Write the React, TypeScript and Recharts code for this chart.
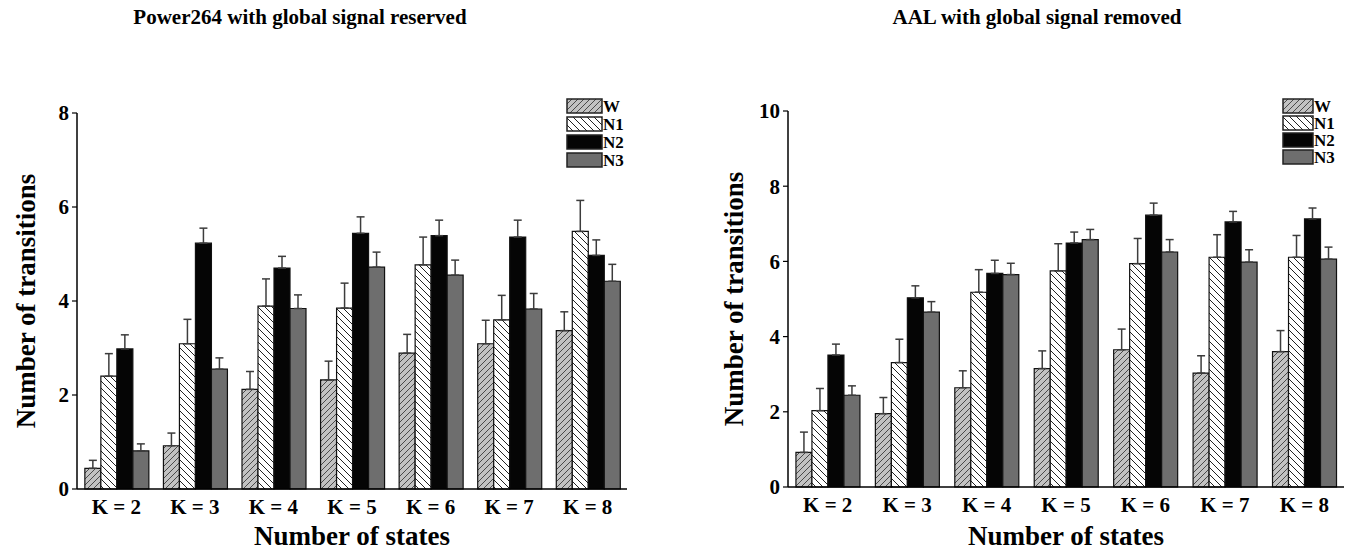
import { Bar, BarChart, ErrorBar, XAxis, YAxis } from "recharts";

const FONT = "Liberation Serif, Times New Roman, serif";

const categories = ["K = 2", "K = 3", "K = 4", "K = 5", "K = 6", "K = 7", "K = 8"];
const groups = ["W", "N1", "N2", "N3"];

// Power264, global signal reserved
const powerW = [0.44, 0.92, 2.12, 2.32, 2.89, 3.09, 3.37];
const powerWErr = [0.17, 0.27, 0.38, 0.4, 0.4, 0.5, 0.4];
const powerN1 = [2.4, 3.09, 3.89, 3.85, 4.77, 3.6, 5.48];
const powerN1Err = [0.48, 0.52, 0.58, 0.53, 0.59, 0.52, 0.66];
const powerN2 = [2.98, 5.23, 4.7, 5.44, 5.39, 5.36, 4.97];
const powerN2Err = [0.3, 0.32, 0.25, 0.35, 0.33, 0.36, 0.33];
const powerN3 = [0.81, 2.55, 3.84, 4.72, 4.55, 3.83, 4.42];
const powerN3Err = [0.15, 0.24, 0.29, 0.32, 0.32, 0.33, 0.36];

// AAL, global signal removed
const aalW = [0.92, 1.95, 2.64, 3.15, 3.65, 3.03, 3.6];
const aalWErr = [0.54, 0.43, 0.45, 0.47, 0.55, 0.46, 0.56];
const aalN1 = [2.03, 3.31, 5.18, 5.75, 5.94, 6.11, 6.11];
const aalN1Err = [0.59, 0.62, 0.6, 0.72, 0.67, 0.6, 0.58];
const aalN2 = [3.51, 5.03, 5.68, 6.49, 7.23, 7.05, 7.13];
const aalN2Err = [0.29, 0.32, 0.35, 0.29, 0.32, 0.28, 0.29];
const aalN3 = [2.44, 4.65, 5.65, 6.58, 6.25, 5.98, 6.06];
const aalN3Err = [0.25, 0.28, 0.3, 0.27, 0.33, 0.33, 0.32];

const powerTicks = [0, 2, 4, 6, 8];
const aalTicks = [0, 2, 4, 6, 8, 10];

const buildRows = (vals: number[][], errs: number[][]) =>
  categories.map((k, i) => {
    const row: Record<string, any> = { k };
    groups.forEach((g, j) => {
      row[g] = vals[j][i];
      row[g + "Err"] = [0, errs[j][i]];
    });
    return row;
  });

const powerRows = buildRows(
  [powerW, powerN1, powerN2, powerN3],
  [powerWErr, powerN1Err, powerN2Err, powerN3Err]
);
const aalRows = buildRows([aalW, aalN1, aalN2, aalN3], [aalWErr, aalN1Err, aalN2Err, aalN3Err]);

const fills: Record<string, string> = {
  W: "url(#hatch-w)",
  N1: "url(#hatch-n1)",
  N2: "#050505",
  N3: "#6e6e6e",
};

function Patterns() {
  return (
    <svg width={0} height={0} style={{ position: "absolute" }}>
      <defs>
        <pattern id="hatch-w" patternUnits="userSpaceOnUse" width={6} height={6}>
          <rect width={6} height={6} fill="#c2c2c2" />
          <path d="M0,6 L6,0 M-1,1 L1,-1 M5,7 L7,5" stroke="#4a4a4a" strokeWidth={1} />
        </pattern>
        <pattern id="hatch-n1" patternUnits="userSpaceOnUse" width={7} height={7}>
          <rect width={7} height={7} fill="#ffffff" />
          <path d="M0,0 L7,7 M-1,6 L1,8 M6,-1 L8,1" stroke="#222" strokeWidth={1} />
        </pattern>
      </defs>
    </svg>
  );
}

const tickStyle = { fill: "#000", fontSize: 21, fontWeight: 700, fontFamily: FONT };
const axisTitle = { fill: "#000", fontSize: 27, fontWeight: 700, fontFamily: FONT };

function Panel({
  rows,
  ticks,
  left,
  width,
  top,
  bottom,
  right,
  yWidth,
  yLabelDx,
}: {
  rows: Record<string, any>[];
  ticks: number[];
  left: number;
  width: number;
  top: number;
  bottom: number;
  right: number;
  yWidth: number;
  yLabelDx: number;
}) {
  return (
    <div style={{ position: "absolute", left, top: 0 }}>
      <BarChart
        width={width}
        height={551}
        data={rows}
        margin={{ top, right, left: 0, bottom: 0 }}
        barCategoryGap="10%"
        barGap={0}
      >
        <XAxis
          dataKey="k"
          height={551 - bottom}
          axisLine={{ stroke: "#000", strokeWidth: 1.5 }}
          tickLine={false}
          tickSize={0}
          tickMargin={10}
          tick={tickStyle}
          interval={0}
          label={{ value: "Number of states", position: "insideBottom", offset: 6, style: axisTitle }}
        />
        <YAxis
          width={yWidth}
          domain={[0, ticks[ticks.length - 1]]}
          ticks={ticks}
          axisLine={{ stroke: "#000", strokeWidth: 1.5 }}
          tickLine={{ stroke: "#000", strokeWidth: 1.2 }}
          tickSize={5}
          tickMargin={3}
          tick={tickStyle}
          label={{
            value: "Number of transitions",
            angle: -90,
            position: "center",
            dx: yLabelDx,
            style: axisTitle,
          }}
        />
        {groups.map((g) => (
          <Bar
            key={g}
            dataKey={g}
            fill={fills[g]}
            stroke="#111"
            strokeWidth={1.2}
            isAnimationActive={false}
          >
            <ErrorBar dataKey={g + "Err"} width={4} stroke="#3c3c3c" strokeWidth={1.5} direction="y" />
          </Bar>
        ))}
      </BarChart>
    </div>
  );
}

function LegendBox({ x, y, w, h, pitch }: { x: number; y: number; w: number; h: number; pitch: number }) {
  return (
    <svg
      width={w + 40}
      height={pitch * 4 + 4}
      style={{ position: "absolute", left: x, top: y, overflow: "visible" }}
    >
      {groups.map((g, i) => (
        <g key={g} transform={`translate(0, ${i * pitch + 1})`}>
          <rect x={1} y={0} width={w} height={h} fill={fills[g]} stroke="#222" strokeWidth={1.5} />
          <text
            x={w + 2}
            y={h / 2 + 6}
            fontFamily={FONT}
            fontWeight={700}
            fontSize={17}
            fill="#000"
          >
            {g}
          </text>
        </g>
      ))}
    </svg>
  );
}

const titleStyle = {
  position: "absolute" as const,
  top: 5,
  fontFamily: FONT,
  fontWeight: 700,
  fontSize: 21,
  color: "#000",
  textAlign: "center" as const,
  width: 500,
  whiteSpace: "nowrap" as const,
};

export default function App() {
  return (
    <div
      style={{
        position: "absolute",
        left: 0,
        top: 0,
        width: 1346,
        height: 551,
        background: "#fff",
        overflow: "hidden",
      }}
    >
      <Patterns />
      <div style={{ ...titleStyle, left: 300 - 250 }}>Power264 with global signal reserved</div>
      <div style={{ ...titleStyle, left: 1037 - 250 }}>AAL with global signal removed</div>
      <Panel
        rows={powerRows}
        ticks={powerTicks}
        left={0}
        width={640}
        top={113}
        bottom={489}
        right={13}
        yWidth={77}
        yLabelDx={-13}
      />
      <Panel
        rows={aalRows}
        ticks={aalTicks}
        left={700}
        width={646}
        top={111}
        bottom={487}
        right={2}
        yWidth={88}
        yLabelDx={-11}
      />
      <LegendBox x={566} y={98} w={35} h={14} pitch={18} />
      <LegendBox x={1282} y={98} w={30} h={14} pitch={17} />
    </div>
  );
}
